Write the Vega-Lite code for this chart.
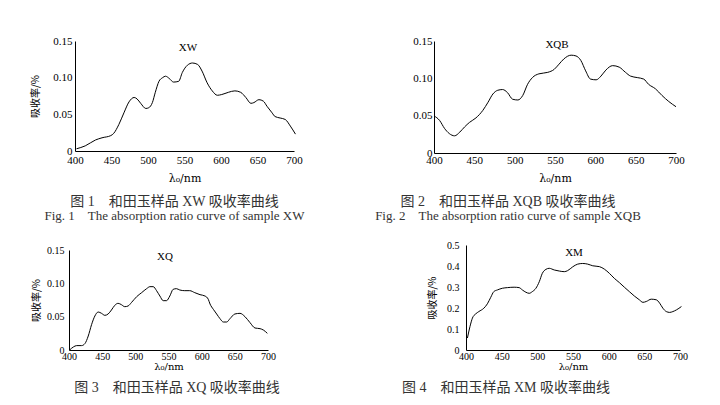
{
  "$schema": "https://vega.github.io/schema/vega-lite/v6.json",
  "background": "white",
  "padding": {"left": 30, "top": 35, "right": 5, "bottom": 5},
  "spacing": 17,
  "config": {
    "view": {"stroke": null},
    "axis": {
      "grid": false,
      "ticks": false,
      "labelOverlap": false,
      "labelFlush": false,
      "domainColor": "black",
      "domainWidth": 1,
      "labelColor": "black",
      "titleColor": "black",
      "labelFont": "Liberation Serif",
      "titleFont": "DejaVu Serif",
      "titleFontWeight": "normal",
      "labelFontSize": 11,
      "titleFontSize": 11
    },
    "title": {
      "font": "Liberation Serif, Noto Sans CJK SC",
      "fontSize": 14,
      "fontWeight": "normal",
      "color": "#333333",
      "subtitleFont": "Liberation Serif",
      "subtitleFontSize": 13,
      "subtitleColor": "#333333",
      "subtitlePadding": 1
    }
  },
  "datasets": {
    "xw": [
      {"wl": 402, "a": 0.003}, {"wl": 414, "a": 0.007}, {"wl": 428, "a": 0.015}, {"wl": 437, "a": 0.018},
      {"wl": 449, "a": 0.021}, {"wl": 453, "a": 0.024}, {"wl": 460, "a": 0.036}, {"wl": 467, "a": 0.052},
      {"wl": 474, "a": 0.067}, {"wl": 481, "a": 0.073}, {"wl": 485, "a": 0.071}, {"wl": 490, "a": 0.065},
      {"wl": 497, "a": 0.058}, {"wl": 501, "a": 0.059}, {"wl": 506, "a": 0.066}, {"wl": 510, "a": 0.08},
      {"wl": 515, "a": 0.095}, {"wl": 520, "a": 0.1}, {"wl": 524, "a": 0.102}, {"wl": 529, "a": 0.099},
      {"wl": 535, "a": 0.094}, {"wl": 542, "a": 0.095}, {"wl": 547, "a": 0.107}, {"wl": 554, "a": 0.117},
      {"wl": 561, "a": 0.12}, {"wl": 568, "a": 0.118}, {"wl": 574, "a": 0.109}, {"wl": 581, "a": 0.093},
      {"wl": 588, "a": 0.082}, {"wl": 595, "a": 0.076}, {"wl": 601, "a": 0.077}, {"wl": 610, "a": 0.08},
      {"wl": 619, "a": 0.082}, {"wl": 627, "a": 0.08}, {"wl": 634, "a": 0.073}, {"wl": 641, "a": 0.065},
      {"wl": 645, "a": 0.066}, {"wl": 652, "a": 0.07}, {"wl": 658, "a": 0.068}, {"wl": 663, "a": 0.061},
      {"wl": 670, "a": 0.052}, {"wl": 674, "a": 0.047}, {"wl": 681, "a": 0.045}, {"wl": 688, "a": 0.043},
      {"wl": 695, "a": 0.034}, {"wl": 702, "a": 0.023}
    ],
    "xqb": [
      {"wl": 400, "a": 0.0497}, {"wl": 407, "a": 0.0435}, {"wl": 413, "a": 0.033}, {"wl": 419, "a": 0.026},
      {"wl": 425.5, "a": 0.023}, {"wl": 432, "a": 0.028}, {"wl": 438, "a": 0.035}, {"wl": 444, "a": 0.041},
      {"wl": 452, "a": 0.047}, {"wl": 460.5, "a": 0.057}, {"wl": 467, "a": 0.068}, {"wl": 473, "a": 0.079},
      {"wl": 479, "a": 0.084}, {"wl": 485, "a": 0.085}, {"wl": 491, "a": 0.081}, {"wl": 497.5, "a": 0.072},
      {"wl": 504, "a": 0.071}, {"wl": 510, "a": 0.077}, {"wl": 516, "a": 0.092}, {"wl": 522, "a": 0.101},
      {"wl": 530, "a": 0.106}, {"wl": 541, "a": 0.108}, {"wl": 549, "a": 0.112}, {"wl": 555, "a": 0.119},
      {"wl": 561, "a": 0.126}, {"wl": 570, "a": 0.131}, {"wl": 576, "a": 0.13}, {"wl": 582, "a": 0.124},
      {"wl": 588, "a": 0.11}, {"wl": 594, "a": 0.099}, {"wl": 601, "a": 0.098}, {"wl": 607, "a": 0.103},
      {"wl": 613, "a": 0.111}, {"wl": 621.5, "a": 0.117}, {"wl": 629.6, "a": 0.115}, {"wl": 637.4, "a": 0.108},
      {"wl": 643.6, "a": 0.103}, {"wl": 652, "a": 0.101}, {"wl": 660, "a": 0.099}, {"wl": 666, "a": 0.092},
      {"wl": 674.5, "a": 0.086}, {"wl": 682.7, "a": 0.077}, {"wl": 691, "a": 0.069}, {"wl": 700, "a": 0.062}
    ],
    "xq": [
      {"wl": 401.5, "a": 0.0005}, {"wl": 406.5, "a": 0.0045}, {"wl": 411.6, "a": 0.0066}, {"wl": 419, "a": 0.0066},
      {"wl": 424, "a": 0.0096}, {"wl": 429, "a": 0.021}, {"wl": 434, "a": 0.038}, {"wl": 439, "a": 0.051},
      {"wl": 444, "a": 0.057}, {"wl": 449, "a": 0.055}, {"wl": 454, "a": 0.052}, {"wl": 459, "a": 0.054},
      {"wl": 464, "a": 0.06}, {"wl": 469, "a": 0.067}, {"wl": 474, "a": 0.07}, {"wl": 479, "a": 0.068},
      {"wl": 484, "a": 0.065}, {"wl": 489, "a": 0.066}, {"wl": 494, "a": 0.071}, {"wl": 502, "a": 0.08},
      {"wl": 509.5, "a": 0.086}, {"wl": 517, "a": 0.092}, {"wl": 522, "a": 0.095}, {"wl": 527, "a": 0.095},
      {"wl": 532, "a": 0.089}, {"wl": 537, "a": 0.081}, {"wl": 542, "a": 0.074}, {"wl": 547, "a": 0.074},
      {"wl": 552, "a": 0.081}, {"wl": 557, "a": 0.091}, {"wl": 562, "a": 0.092}, {"wl": 567, "a": 0.09},
      {"wl": 574.5, "a": 0.089}, {"wl": 582, "a": 0.089}, {"wl": 589.6, "a": 0.086}, {"wl": 597.5, "a": 0.083},
      {"wl": 605, "a": 0.081}, {"wl": 610, "a": 0.076}, {"wl": 612.6, "a": 0.069}, {"wl": 617.6, "a": 0.061},
      {"wl": 622.6, "a": 0.054}, {"wl": 627.6, "a": 0.047}, {"wl": 632.7, "a": 0.042}, {"wl": 637.7, "a": 0.042},
      {"wl": 642.7, "a": 0.047}, {"wl": 650, "a": 0.054}, {"wl": 657.8, "a": 0.055}, {"wl": 665.3, "a": 0.05},
      {"wl": 672.9, "a": 0.041}, {"wl": 680.4, "a": 0.033}, {"wl": 688, "a": 0.032}, {"wl": 693, "a": 0.03},
      {"wl": 699, "a": 0.025}
    ],
    "xm": [
      {"wl": 402, "a": 0.057}, {"wl": 405.6, "a": 0.112}, {"wl": 409, "a": 0.152}, {"wl": 413.6, "a": 0.172},
      {"wl": 418, "a": 0.183}, {"wl": 425, "a": 0.199}, {"wl": 430, "a": 0.22}, {"wl": 434.7, "a": 0.251},
      {"wl": 439, "a": 0.278}, {"wl": 444, "a": 0.286}, {"wl": 451, "a": 0.294}, {"wl": 458, "a": 0.297},
      {"wl": 467.5, "a": 0.299}, {"wl": 474.5, "a": 0.297}, {"wl": 479, "a": 0.286}, {"wl": 484, "a": 0.275},
      {"wl": 488.6, "a": 0.27}, {"wl": 493, "a": 0.278}, {"wl": 498, "a": 0.294}, {"wl": 502.7, "a": 0.325},
      {"wl": 507, "a": 0.365}, {"wl": 512, "a": 0.384}, {"wl": 516.7, "a": 0.389}, {"wl": 523.8, "a": 0.381},
      {"wl": 530.8, "a": 0.376}, {"wl": 537.8, "a": 0.373}, {"wl": 542.5, "a": 0.378}, {"wl": 549.6, "a": 0.396},
      {"wl": 556.6, "a": 0.409}, {"wl": 563.6, "a": 0.412}, {"wl": 570.6, "a": 0.409}, {"wl": 577.7, "a": 0.401},
      {"wl": 587, "a": 0.397}, {"wl": 594, "a": 0.385}, {"wl": 601, "a": 0.365}, {"wl": 608, "a": 0.341},
      {"wl": 615, "a": 0.321}, {"wl": 622, "a": 0.299}, {"wl": 629, "a": 0.278}, {"wl": 636, "a": 0.257},
      {"wl": 643, "a": 0.239}, {"wl": 648, "a": 0.227}, {"wl": 652.7, "a": 0.231}, {"wl": 659.7, "a": 0.242},
      {"wl": 666.8, "a": 0.239}, {"wl": 671.5, "a": 0.223}, {"wl": 676, "a": 0.199}, {"wl": 680.8, "a": 0.183},
      {"wl": 685.5, "a": 0.179}, {"wl": 690, "a": 0.183}, {"wl": 695, "a": 0.191}, {"wl": 702, "a": 0.207}
    ]
  },
  "vconcat": [
    {
      "hconcat": [
        {
          "width": 219,
          "height": 110,
          "title": {"text": "图 1　和田玉样品 XW 吸收率曲线", "subtitle": "Fig. 1　The absorption ratio curve of sample XW", "orient": "bottom", "anchor": "middle", "dx": -10, "offset": 12},
          "layer": [
            {
              "data": {"name": "xw"},
              "mark": {"type": "line", "color": "black", "strokeWidth": 1, "interpolate": "monotone"},
              "encoding": {
                "x": {"field": "wl", "type": "quantitative", "scale": {"domain": [400, 700], "nice": false, "zero": false},
                  "axis": {"values": [400, 450, 500, 550, 600, 650, 700], "labelOverlap": false, "labelPadding": 3, "titlePadding": 7, "title": "λ₀/nm"}},
                "y": {"field": "a", "type": "quantitative", "scale": {"domain": [0, 0.15], "nice": false},
                  "axis": {"values": [0, 0.05, 0.1, 0.15], "labelOverlap": false, "labelExpr": "datum.value == 0 ? '0' : format(datum.value, '.2f')", "labelPadding": 3, "titlePadding": 12, "title": "吸收率/%", "titleFont": "Noto Sans CJK SC", "titleFontSize": 10}}
              }
            },
            {
              "data": {"values": [{"sample": "XW"}]},
              "mark": {"type": "text", "font": "Liberation Serif", "fontSize": 11, "color": "black", "dx": 3.5, "dy": -48},
              "encoding": {"text": {"field": "sample"}}
            }
          ]
        },
        {
          "width": 242,
          "height": 112,
          "title": {"text": "图 2　和田玉样品 XQB 吸收率曲线", "subtitle": "Fig. 2　The absorption ratio curve of sample XQB", "orient": "bottom", "anchor": "middle", "dx": -47, "offset": 12},
          "layer": [
            {
              "data": {"name": "xqb"},
              "mark": {"type": "line", "color": "black", "strokeWidth": 1, "interpolate": "monotone"},
              "encoding": {
                "x": {"field": "wl", "type": "quantitative", "scale": {"domain": [400, 700], "nice": false, "zero": false},
                  "axis": {"values": [400, 450, 500, 550, 600, 650, 700], "labelOverlap": false, "labelPadding": 1, "titlePadding": 7, "title": "λ₀/nm"}},
                "y": {"field": "a", "type": "quantitative", "scale": {"domain": [0, 0.15], "nice": false},
                  "axis": {"values": [0, 0.05, 0.1, 0.15], "labelOverlap": false, "labelExpr": "datum.value == 0 ? '0' : format(datum.value, '.2f')", "labelPadding": 2, "title": null}}
              }
            },
            {
              "data": {"values": [{"sample": "XQB"}]},
              "mark": {"type": "text", "font": "Liberation Serif", "fontSize": 11, "color": "black", "dx": 2, "dy": -52},
              "encoding": {"text": {"field": "sample"}}
            }
          ]
        }
      ],
      "spacing": 140,
      "bounds": "flush"
    },
    {
      "hconcat": [
        {
          "width": 193,
          "height": 105,
          "title": {"text": "图 3　和田玉样品 XQ 吸收率曲线", "orient": "bottom", "anchor": "middle", "dx": 5.5, "offset": 10},
          "layer": [
            {
              "data": {"name": "xq"},
              "mark": {"type": "line", "color": "black", "strokeWidth": 1, "interpolate": "monotone"},
              "encoding": {
                "x": {"field": "wl", "type": "quantitative", "scale": {"domain": [400, 700], "range": [-6, 193], "nice": false, "zero": false},
                  "axis": {"values": [400, 450, 500, 550, 600, 650, 700], "labelOverlap": false, "labelPadding": 1, "titlePadding": 0, "labelFontSize": 10, "titleFontSize": 10, "title": "λ₀/nm"}},
                "y": {"field": "a", "type": "quantitative", "scale": {"domain": [0, 0.15], "range": [105, 5], "nice": false},
                  "axis": {"values": [0, 0.05, 0.1, 0.15], "labelOverlap": false, "labelExpr": "datum.value == 0 ? '0' : format(datum.value, '.2f')", "offset": 6, "labelPadding": 5, "titlePadding": 5, "labelFontSize": 10, "title": "吸收率/%", "titleFont": "Noto Sans CJK SC", "titleFontSize": 10}}
              }
            },
            {
              "data": {"values": [{"sample": "XQ"}]},
              "mark": {"type": "text", "font": "Liberation Serif", "fontSize": 11, "color": "black", "dx": -6.5, "dy": -40.5},
              "encoding": {"text": {"field": "sample"}}
            }
          ]
        },
        {
          "width": 214,
          "height": 105,
          "title": {"text": "图 4　和田玉样品 XM 吸收率曲线", "orient": "bottom", "anchor": "middle", "dx": -67, "offset": 10},
          "layer": [
            {
              "data": {"name": "xm"},
              "mark": {"type": "line", "color": "black", "strokeWidth": 1, "interpolate": "monotone"},
              "encoding": {
                "x": {"field": "wl", "type": "quantitative", "scale": {"domain": [400, 700], "nice": false, "zero": false},
                  "axis": {"values": [400, 450, 500, 550, 600, 650, 700], "labelOverlap": false, "labelPadding": 1, "titlePadding": 0, "labelFontSize": 10, "titleFontSize": 10, "title": "λ₀/nm"}},
                "y": {"field": "a", "type": "quantitative", "scale": {"domain": [0, 0.5], "nice": false},
                  "axis": {"values": [0, 0.1, 0.2, 0.3, 0.4, 0.5], "labelOverlap": false, "labelExpr": "datum.value == 0 ? '0' : format(datum.value, '.1f')", "labelPadding": 7, "titlePadding": 9, "labelFontSize": 10, "title": "吸收率/%", "titleFont": "Noto Sans CJK SC", "titleFontSize": 10}}
              }
            },
            {
              "data": {"values": [{"sample": "XM"}]},
              "mark": {"type": "text", "font": "Liberation Serif", "fontSize": 11, "color": "black", "dx": 1, "dy": -44.5},
              "encoding": {"text": {"field": "sample"}}
            }
          ]
        }
      ],
      "spacing": 198,
      "bounds": "flush"
    }
  ]
}
